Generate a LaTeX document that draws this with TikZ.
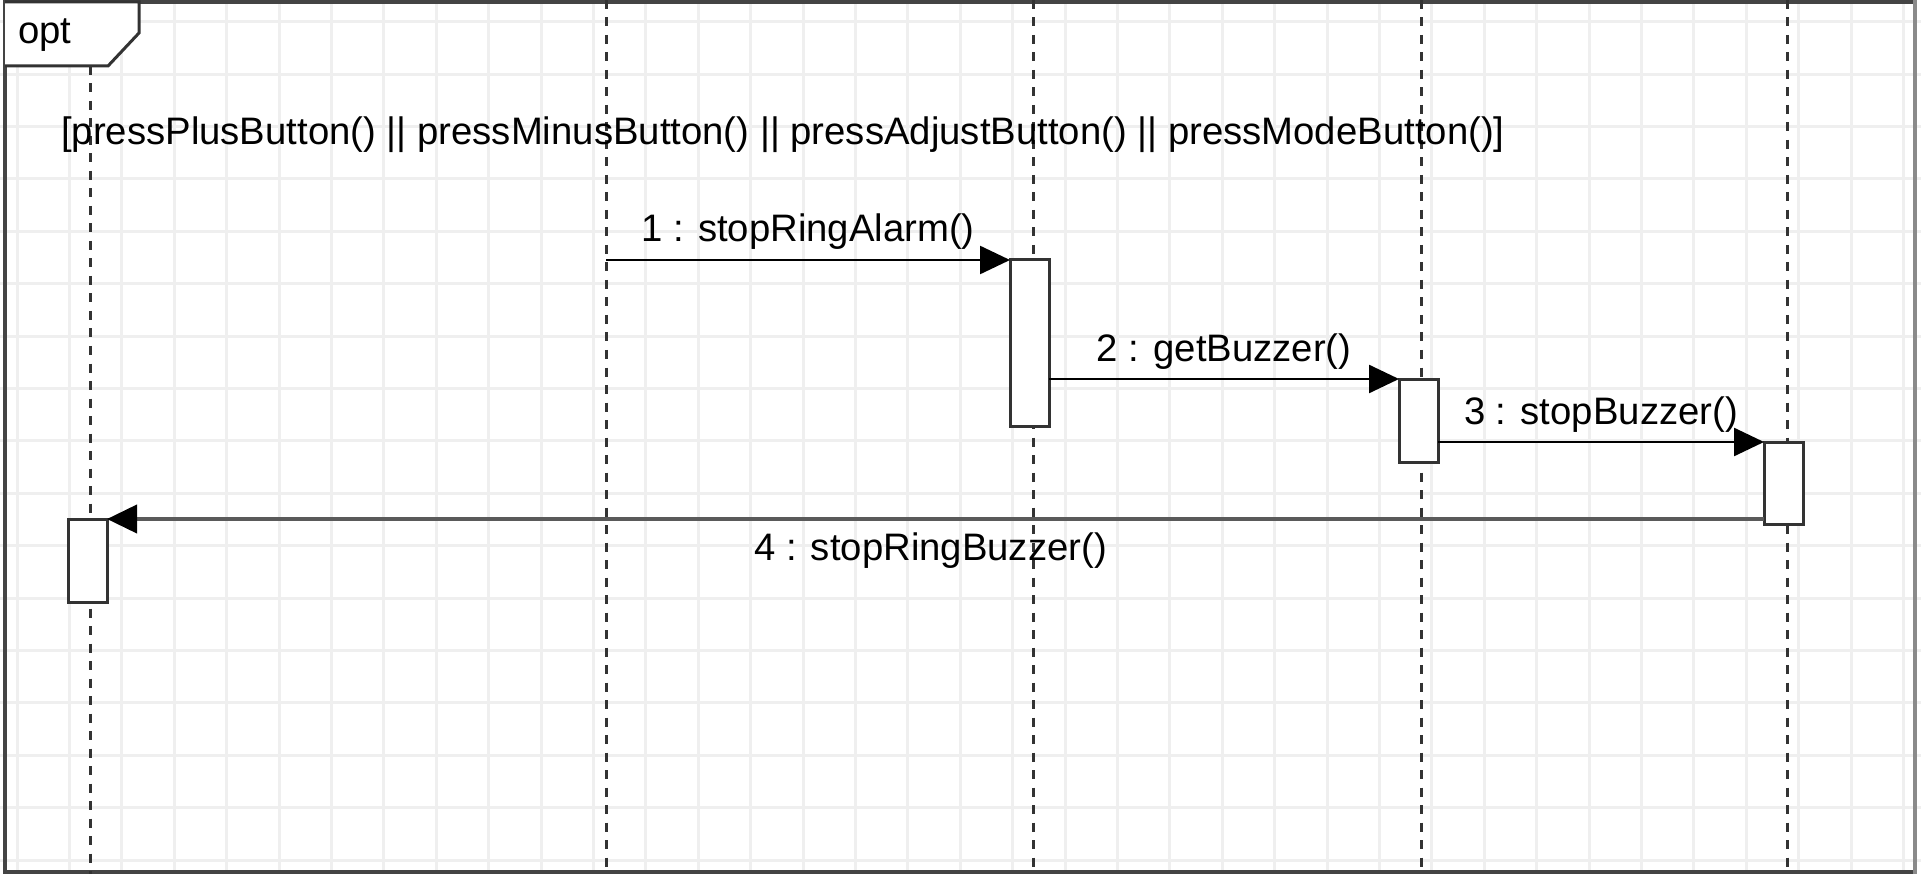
\documentclass[tikz,border=0pt]{standalone}
\usepackage{fontspec}
\setmainfont{Liberation Sans}
\usetikzlibrary{arrows.meta,calc}
\definecolor{gridc}{HTML}{EFEFEF}
\definecolor{framec}{HTML}{444444}
\definecolor{framer}{HTML}{8A8A8A}
\definecolor{linec}{HTML}{333333}
\definecolor{retc}{HTML}{5A5A5A}
\begin{document}
\begin{tikzpicture}[x=1pt,y=-1pt,
  every node/.style={font=\fontsize{38.3}{46}\selectfont},
  lbl/.style={inner sep=0pt, anchor=base, text=black},
  gridline/.style={draw=gridc, line width=3pt},
  act/.style={draw=linec, line width=3pt, fill=white, minimum width=39pt, inner sep=0pt, outer sep=0pt},
  lifeline/.style={draw=linec, line width=3pt, dash pattern=on 9pt off 8.5pt},
  msg/.style={draw=black, line width=2.5pt, -{Triangle[length=30pt,width=28pt]}},
  retmsg/.style={draw=retc, line width=4pt, -{Triangle[length=30pt,width=28pt,color=black]}},
  tabshape/.style={draw=linec, line width=3pt, fill=white}]
\useasboundingbox (0,0) rectangle (1921,874);
\fill[white] (0,0) rectangle (1921,874);
% grid
\foreach \i in {0,...,36} \draw[gridline] ({17+52.4*\i},0) -- ({17+52.4*\i},874);
\foreach \j in {0,...,16} \draw[gridline] (0,{21.7+52.4*\j}) -- (1921,{21.7+52.4*\j});
% frame
\draw[framec, line width=4pt] (1915,2) -- (5,2) -- (5,872) -- (1915,872);
\draw[framer, line width=4.5pt] (1915,0) -- (1915,874);
% lifelines
\coordinate (L1t) at (90,66);     \coordinate (L1b) at (90,874);
\coordinate (L2t) at (606,0);     \coordinate (L2b) at (606,874);
\coordinate (L3t) at (1033,0);    \coordinate (L3b) at (1033,874);
\coordinate (L4t) at (1421.5,0);  \coordinate (L4b) at (1421.5,874);
\coordinate (L5t) at (1787,0);    \coordinate (L5b) at (1787,874);
\draw[lifeline] (L1t) -- (L1b);
\draw[lifeline] (L2t) -- (L2b);
\draw[lifeline] (L3t) -- (L3b);
\draw[lifeline] (L4t) -- (L4b);
\draw[lifeline] (L5t) -- (L5b);
% opt tab
\draw[tabshape] (5,2) -- (139,2) -- (139,33) -- (108,66) -- (5,66);
\node[lbl, anchor=base west] (opt) at (18,44) {opt};
% guard
\node[lbl, anchor=base west] (guard) at (61,145) {[pressPlusButton() || pressMinusButton() || pressAdjustButton() || pressModeButton()]};
% activation boxes
\node[act, minimum height=83pt]  (a1) at (87.5,560.5) {};
\node[act, minimum height=166pt] (a3) at (1029.5,343) {};
\node[act, minimum height=83pt]  (a4) at (1418.5,420.5) {};
\node[act, minimum height=82pt]  (a5) at (1783.5,483) {};
% messages
\draw[msg] (L2t |- a3.north west) -- (a3.north west)
  node[lbl, midway, yshift=18pt] (m1) {1 : stopRingAlarm()};
\draw[msg] (a3.east |- a4.north west) -- (a4.north west)
  node[lbl, midway, yshift=18pt] (m2) {2 : getBuzzer()};
\draw[msg] (a4.east |- a5.north west) -- (a5.north west)
  node[lbl, midway, yshift=18pt] (m3) {3 : stopBuzzer()};
\draw[retmsg] (a5.west |- a1.north east) -- (a1.north east)
  node[lbl, pos=0.503, yshift=-41pt] (m4) {4 : stopRingBuzzer()};
\end{tikzpicture}
\end{document}
